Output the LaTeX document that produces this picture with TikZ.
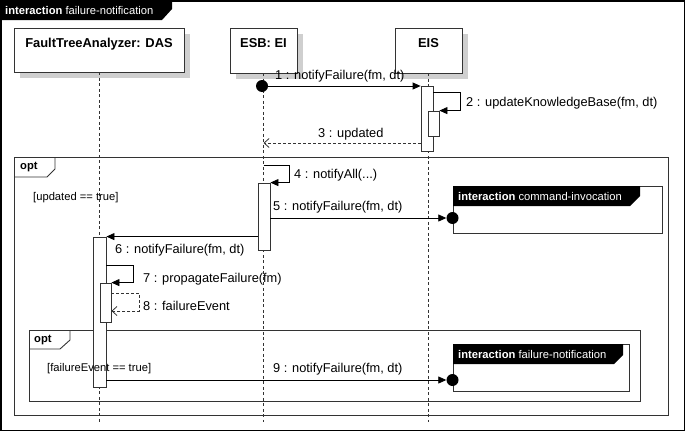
\documentclass[tikz,border=0pt]{standalone}
\usepackage{fontspec}
\setmainfont{Liberation Sans}
\usetikzlibrary{arrows.meta}
\definecolor{ln}{HTML}{333333}
\definecolor{shd}{HTML}{CFCFCF}
\tikzset{
  lifeln/.style={draw=ln, line width=0.8pt, dash pattern=on 3pt off 2.5pt},
  headbox/.style={draw=ln, line width=0.8pt, fill=white, rectangle, inner sep=0pt},
  shadowbox/.style={fill=shd, draw=none, rectangle, inner sep=0pt},
  headtxt/.style={font=\fontsize{12.9}{15}\selectfont\bfseries, inner sep=0pt, anchor=north},
  act/.style={draw=ln, line width=0.8pt, fill=white, rectangle, inner sep=0pt},
  frameln/.style={draw=ln, line width=0.9pt},
  tabtxt/.style={font=\fontsize{11.2}{13}\selectfont, text=white, inner sep=0pt, anchor=west},
  optxt/.style={font=\fontsize{11.2}{13}\selectfont\bfseries, inner sep=0pt, anchor=west},
  guard/.style={font=\fontsize{11.2}{13}\selectfont, inner sep=0pt, anchor=west},
  msg/.style={font=\fontsize{12.8}{15}\selectfont, inner sep=0pt, anchor=west},
  sync/.style={draw=black, line width=0.8pt, -{Triangle[length=8pt,width=7pt]}},
  reply/.style={draw=ln, line width=0.8pt, dash pattern=on 3pt off 2pt, -{Straight Barb[length=5pt,width=9pt]}},
  dot/.style={circle, fill=black, inner sep=0pt, minimum size=12pt},
}
\begin{document}
\begin{tikzpicture}[x=1pt,y=-1pt]
\useasboundingbox (0,0) rectangle (685,431);
% outer frame
\draw[draw=black, line width=1.4pt] (0.8,0.8) rectangle (684.2,430.2);
\fill[black] (0,0) -- (172,0) -- (172,9) -- (162,20) -- (0,20) -- cycle;
\node[tabtxt] (ttl) at (5,10) {\textbf{interaction} failure-notification};

% lifeline heads (shadows first)
\node[shadowbox, minimum width=170pt, minimum height=44pt] (dass) at (105,56) {};
\node[shadowbox, minimum width=67pt, minimum height=45pt] (esbs) at (269.5,56.5) {};
\node[shadowbox, minimum width=67pt, minimum height=45pt] (eiss) at (434.5,56.5) {};
\node[headbox, minimum width=170pt, minimum height=44pt] (das) at (99,50) {};
\node[headtxt] (dast) at ([yshift=-10.5pt]das.north) {FaultTreeAnalyzer: DAS};
\node[headbox, minimum width=67pt, minimum height=45pt] (esb) at (263.5,50.5) {};
\node[headtxt] (esbt) at ([yshift=-10.5pt]esb.north) {ESB: EI};
\node[headbox, minimum width=67pt, minimum height=45pt] (eis) at (428.5,50.5) {};
\node[headtxt] (eist) at ([yshift=-10.5pt]eis.north) {EIS};

\coordinate (dasend) at (das.center |- 0,422);
\coordinate (esbend) at (esb.center |- 0,422);
\coordinate (eisend) at (eis.center |- 0,422);
\draw[lifeln] (das.south) -- (dasend);
\draw[lifeln] (esb.south) -- (esbend);
\draw[lifeln] (eis.south) -- (eisend);

% outer opt
\draw[frameln] (14.5,157) rectangle (668.5,415.5);
\draw[frameln] (14.5,177) -- (47,177) -- (55,169) -- (55,157);
\node[optxt] (opt1) at (20,167.5) {opt};

% inner opt
\draw[frameln] (29.5,330) rectangle (640,401.5);
\draw[frameln] (29.5,349) -- (60,349) -- (70,340) -- (70,330);
\node[optxt] (opt2) at (34,340.5) {opt};

% interaction use: command-invocation
\draw[frameln, fill=white] (453,186) rectangle (662,233);
\fill[black] (453,186) -- (640,186) -- (640,196) -- (630,206) -- (453,206) -- cycle;
\node[tabtxt] (ci) at (458,196.5) {\textbf{interaction} command-invocation};

% interaction use: failure-notification
\draw[frameln, fill=white] (453,344) rectangle (629,391);
\fill[black] (453,344) -- (623,344) -- (623,355) -- (614,364) -- (453,364) -- cycle;
\node[tabtxt] (fn) at (458,354) {\textbf{interaction} failure-notification};

% activations
\node[act, minimum width=12pt, minimum height=65pt] (aEIS) at (427,118.5) {};
\node[act, minimum width=11pt, minimum height=25pt] (aEIS2) at (433.5,123.5) {};
\node[act, minimum width=12pt, minimum height=67pt] (aESB) at (264,216.5) {};
\node[act, minimum width=13pt, minimum height=150pt] (aDAS) at (99.5,312) {};
\node[act, minimum width=11pt, minimum height=39pt] (aDAS2) at (105.5,302.5) {};

% guards
\node[guard] (g1) at (33,198) {[updated == true]};
\node[guard] (g2) at (47,369) {[failureEvent == true]};

% message 1
\node[dot] (s1) at (262,86) {};
\draw[sync] (s1.center) -- (aEIS.west |- s1);
\node[msg] (m1) at (275,76.5) {1 : notifyFailure(fm, dt)};
% message 2
\draw[sync] (aEIS.east |- 0,92) -- ++(27,0) |- (aEIS2.north east);
\node[msg] (m2) at (466,103.5) {2 : updateKnowledgeBase(fm, dt)};
% message 3
\draw[reply] (aEIS.west |- 0,143) -- (esb.center |- 0,143);
\node[msg] (m3) at (318,134.5) {3 : updated};
% message 4
\draw[sync] (esb.center |- 0,165) -- ++(26,0) |- (aESB.north east);
\node[msg] (m4) at (294,175) {4 : notifyAll(...)};
% message 5
\node[dot] (e5) at (452.5,218) {};
\draw[sync] (aESB.east |- e5) -- (e5.west);
\node[msg] (m5) at (273,207.5) {5 : notifyFailure(fm, dt)};
% message 6
\draw[sync] (aESB.west |- aDAS.north) -- (aDAS.north east);
\node[msg] (m6) at (115,250.5) {6 : notifyFailure(fm, dt)};
% message 7
\draw[sync] (aDAS.east |- 0,265) -- ++(27,0) |- (aDAS2.north east);
\node[msg] (m7) at (143,279.5) {7 : propagateFailure(fm)};
% message 8
\draw[reply] (aDAS2.east |- 0,293) -- ++(28,0) |- (aDAS2.east |- 0,311);
\node[msg] (m8) at (143,306) {8 : failureEvent};
% message 9
\node[dot] (e9) at (452.5,380) {};
\draw[sync] (aDAS.east |- e9) -- (e9.west);
\node[msg] (m9) at (273,369.5) {9 : notifyFailure(fm, dt)};
\end{tikzpicture}
\end{document}
